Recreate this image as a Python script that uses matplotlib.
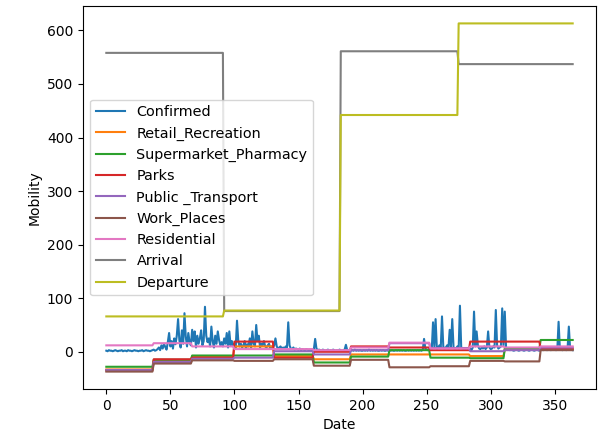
import numpy as np
import matplotlib
matplotlib.use("Agg")
import matplotlib.pyplot as plt

# Segment boundaries (day index) for monthly mobility levels
seg_bounds = [0, 37, 67, 100, 131, 162, 191, 221, 253, 284, 311, 339, 365]
retail = [-33, -17, -9, 10, -8, -14, -5, -5, -5, -8, 5, 5]
supermarket = [-28, -15, -7, -7, -5, -20, -9, 3, -11, -12, 6, 22]
parks = [-35, -14, -11, 19, -11, 0, 10, 8, 3, 19, 19, 6]
public_transport = [-34, -19, -13, -11, 1, -5, 3, 16, 7, 1, 3, 8]
work_places = [-37, -22, -16, -17, -14, -26, -15, -29, -27, -17, -18, 3]
residential = [12, 16, 10, 5, 5, 3, 8, 17, 6, 10, 8, 10]

# Quarterly arrival / departure levels
quarter_bounds = [0, 92, 183, 275, 365]
arrival = [558, 76, 561, 537]
departure = [66, 77, 442, 613]

# Daily confirmed cases
confirmed = [
    2, 1, 3, 2, 2, 1, 2, 3, 2, 1, 2, 2, 3, 1, 2, 2, 1, 3, 2, 2,
    1, 2, 3, 2, 2, 1, 2, 2, 3, 1, 2, 3, 2, 2, 1, 2, 3, 4, 2, 3,
    5, 8, 3, 12, 6, 15, 9, 4, 18, 35, 10, 20, 6, 25, 14, 30, 61, 22, 8, 40,
    15, 72, 28, 10, 35, 18, 12, 41, 20, 38, 8, 30, 15, 25, 40, 12, 20, 84, 30, 18,
    25, 10, 47, 20, 8, 30, 15, 38, 22, 12, 18, 10, 25, 15, 35, 8, 38, 12, 20, 10,
    15, 8, 58, 20, 10, 15, 8, 12, 20, 6, 14, 10, 25, 8, 38, 15, 10, 50, 20, 30,
    8, 15, 12, 20, 10, 8, 12, 15, 6, 10, 8, 12, 25, 10, 6, 8, 10, 5, 8, 6,
    10, 8, 55, 12, 6, 5, 8, 4, 6, 5, 4, 6, 3, 5, 4, 3, 5, 4, 3, 4,
    3, 4, 5, 24, 6, 3, 4, 3, 2, 4, 3, 2, 3, 4, 2, 3, 2, 4, 3, 2,
    3, 2, 4, 3, 2, 3, 4, 13, 3, 2, 3, 2, 3, 2, 4, 2, 3, 2, 3, 2,
    2, 3, 2, 3, 2, 4, 2, 3, 2, 3, 2, 3, 2, 2, 3, 2, 3, 2, 2, 3,
    2, 3, 2, 3, 2, 2, 3, 2, 3, 2, 3, 2, 3, 2, 2, 3, 2, 3, 2, 3,
    2, 3, 2, 3, 2, 3, 2, 4, 24, 6,
    4, 3, 5, 8, 4, 55, 10, 61, 5, 8, 12, 6, 66, 10, 5, 8, 12, 6, 41, 10,
    61, 8, 5, 6, 10, 5, 86, 8, 6, 5, 4, 6, 5, 4, 6, 3, 8, 75, 10, 38,
    12, 6, 5, 8, 6, 10, 5, 8, 38, 8, 5, 6, 10, 8, 78, 12, 6, 8, 10, 81,
    12, 75, 8, 5, 4, 3, 4, 3, 2, 3, 4, 3, 2, 3, 4, 3, 2, 3, 4, 3,
    2, 3, 4, 3, 2, 3, 4, 3, 2, 3, 4, 3, 5, 4, 3, 5, 4, 3, 6, 4,
    5, 3, 4, 56, 5, 4, 3, 5, 4, 3, 6, 47, 5, 4, 3,
]

def expand(levels, bounds):
    lengths = np.diff(bounds)
    return np.repeat(levels, lengths)

days = np.arange(len(confirmed))

series = [
    ("Confirmed", np.array(confirmed)),
    ("Retail_Recreation", expand(retail, seg_bounds)),
    ("Supermarket_Pharmacy", expand(supermarket, seg_bounds)),
    ("Parks", expand(parks, seg_bounds)),
    ("Public _Transport", expand(public_transport, seg_bounds)),
    ("Work_Places", expand(work_places, seg_bounds)),
    ("Residential", expand(residential, seg_bounds)),
    ("Arrival", expand(arrival, quarter_bounds)),
    ("Departure", expand(departure, quarter_bounds)),
]

fig = plt.figure(figsize=(5.98, 4.32), dpi=100)
ax = fig.add_axes([83 / 598, 1 - 389 / 432, (596 - 83) / 598, (389 - 6) / 432])
for name, vals in series:
    ax.plot(days, vals, label=name)
ax.set_xlabel("Date")
ax.set_ylabel("Mobility")
ax.legend(loc="center left", fontsize=10.4)
fig.savefig("out.png", dpi=100)
